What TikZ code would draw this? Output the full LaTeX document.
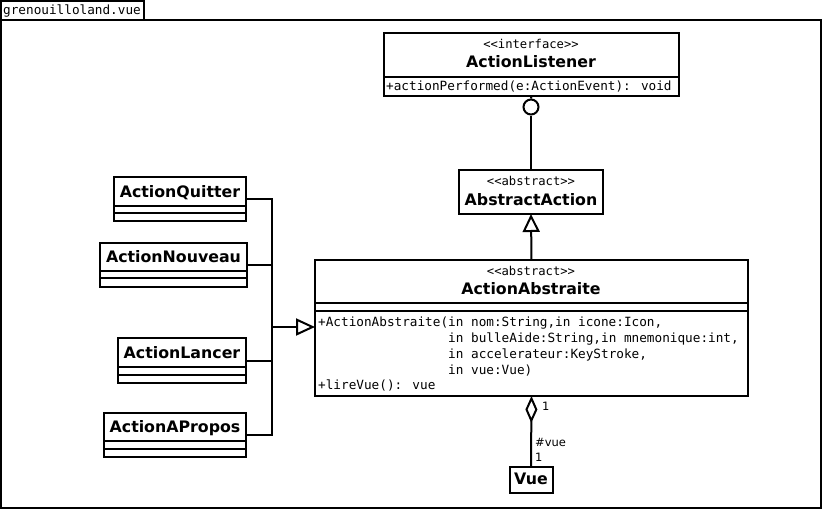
\documentclass[tikz,border=0pt]{standalone}
\usepackage{fontspec}
\setmainfont{DejaVu Sans}
\newfontfamily\monof{DejaVu Sans Mono}
\usetikzlibrary{arrows.meta}
\tikzset{
  box/.style={draw, line width=2pt, inner sep=0pt, outer sep=0pt, fill=white},
  sep/.style={line width=2pt},
  conn/.style={line width=2pt},
  mtxt/.style={anchor=base west, inner sep=0pt, font=\monof\fontsize{12.7}{15}\selectfont},
  stereo/.style={anchor=base, inner sep=0pt, font=\monof\fontsize{12.2}{15}\selectfont},
  cname/.style={anchor=base, inner sep=0pt, font=\bfseries\fontsize{15.8}{18}\selectfont},
  lbl/.style={anchor=base west, inner sep=0pt, font=\fontsize{11.5}{13}\selectfont},
}
\begin{document}
\begin{tikzpicture}[x=1pt,y=-1pt]
\useasboundingbox (0,0) rectangle (825,511);
% package
\draw[line width=2pt] (1,20) rectangle (821,508);
\node[box, minimum width=143, minimum height=19] (tab) at (72.5,10.5) {};
\node[mtxt] (tabtxt) at (3,15) {grenouilloland.vue};

% ActionListener
\node[box, minimum width=295, minimum height=63] (AL) at (531.5,64.5) {};
\draw[sep] (AL.west |- 0,77) -- (AL.east |- 0,77);
\node[stereo] (ALs) at (531,49) {<<interface>>};
\node[cname] (ALn) at (531,67) {ActionListener};
\node[mtxt] (ALm) at (386,91) {+actionPerformed(e:ActionEvent): void};

% AbstractAction
\node[box, minimum width=144, minimum height=44] (AA) at (531,192) {};
\node[stereo] (AAs) at (531,185) {<<abstract>>};
\node[cname] (AAn) at (531,205) {AbstractAction};

% ActionAbstraite
\node[box, minimum width=433, minimum height=136] (AB) at (531.5,328) {};
\draw[sep] (AB.west |- 0,303) -- (AB.east |- 0,303);
\draw[sep] (AB.west |- 0,311) -- (AB.east |- 0,311);
\node[stereo] (ABs) at (531,275) {<<abstract>>};
\node[cname] (ABn) at (531,294) {ActionAbstraite};
\node[mtxt] (ABm1) at (318,326) {+ActionAbstraite(in nom:String,in icone:Icon,};
\node[mtxt] (ABm2) at (448,342) {in bulleAide:String,in mnemonique:int,};
\node[mtxt] (ABm3) at (448,358) {in accelerateur:KeyStroke,};
\node[mtxt] (ABm4) at (448,374) {in vue:Vue)};
\node[mtxt] (ABm5) at (318,389) {+lireVue(): vue};

% left classes
\node[box, minimum width=132, minimum height=44] (Q) at (180,199) {};
\draw[sep] (Q.west |- 0,206) -- (Q.east |- 0,206);
\draw[sep] (Q.west |- 0,213) -- (Q.east |- 0,213);
\node[cname] (Qn) at (180,197) {ActionQuitter};

\node[box, minimum width=147, minimum height=44] (N) at (173.5,265) {};
\draw[sep] (N.west |- 0,271) -- (N.east |- 0,271);
\draw[sep] (N.west |- 0,278) -- (N.east |- 0,278);
\node[cname] (Nn) at (173.5,262) {ActionNouveau};

\node[box, minimum width=128, minimum height=45] (L) at (182,360.5) {};
\draw[sep] (L.west |- 0,367) -- (L.east |- 0,367);
\draw[sep] (L.west |- 0,375) -- (L.east |- 0,375);
\node[cname] (Ln) at (182,358) {ActionLancer};

\node[box, minimum width=142, minimum height=44] (P) at (175,435) {};
\draw[sep] (P.west |- 0,441) -- (P.east |- 0,441);
\draw[sep] (P.west |- 0,449) -- (P.east |- 0,449);
\node[cname] (Pn) at (175,432) {ActionAPropos};

% Vue
\node[box, minimum width=43, minimum height=26] (V) at (531,480) {};
\node[cname] (Vn) at (531,484) {Vue};

% connectors
\node[draw, circle, line width=2pt, minimum size=15, inner sep=0pt] (lp) at (531,107) {};
\draw[conn] (AL.south) -- (lp.north);
\draw[conn] (lp.south) -- (AA.north);
\draw[conn, -{Triangle[open, length=18pt, width=17pt]}] (AB.north) -- (AA.south);

\coordinate (bus) at (272,327);
\draw[conn] (Q.east) -| (bus);
\draw[conn] (N.east) -| (bus);
\draw[conn] (L.east) -| (bus);
\draw[conn] (P.east) -| (bus);
\draw[conn, -{Triangle[open, length=19pt, width=17pt]}] (bus) -- (AB.west |- bus);

\draw[conn, {Diamond[open, length=27pt, width=12pt]}-] (AB.south) -- (V.north);
\node[lbl] (m1) at (542,410) {1};
\node[lbl] (rv) at (535,446) {\#vue};
\node[lbl] (m2) at (535,461) {1};
\end{tikzpicture}
\end{document}
